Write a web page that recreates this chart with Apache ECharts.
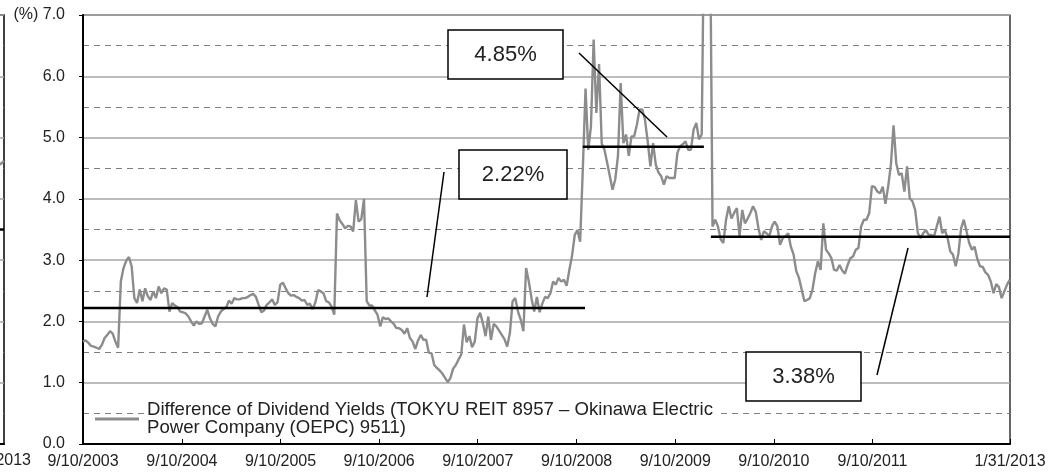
<!DOCTYPE html>
<html><head><meta charset="utf-8">
<script src="https://cdn.jsdelivr.net/npm/echarts@6/dist/echarts.min.js"></script>
<style>html,body{margin:0;padding:0;background:#fff}#c{width:1050px;height:474px}</style>
</head><body><div id="c"></div>
<script>
// ---- data ----
const seriesName = 'Difference of Dividend Yields (TOKYU REIT 8957 \u2013 Okinawa Electric\nPower Company (OEPC) 9511)';
const startDate = [2003, 8, 10];   // 9/10/2003 (y, m-1, d)
const stepDays = 10;               // sampling interval of the values below
const spreadValues = [
1.67,1.69,1.65,1.60,1.59,1.57,1.55,1.62,1.73,1.78,1.84,1.80,1.67,1.57,
2.65,2.87,2.99,3.05,2.90,2.38,2.30,2.52,2.33,2.54,2.41,2.35,2.49,2.38,2.57,2.46,2.54,2.52,
2.16,2.30,2.26,2.23,2.16,2.15,2.13,2.08,2.00,1.93,2.00,1.96,1.97,2.08,2.19,2.05,1.96,1.92,2.08,2.16,2.20,2.23,
2.34,2.29,2.38,2.36,2.36,2.38,2.38,2.40,2.43,2.45,2.40,2.27,2.15,2.18,2.27,2.31,2.36,2.27,2.31,2.60,
2.63,2.54,2.46,2.42,2.43,2.40,2.38,2.34,2.35,2.27,2.29,2.20,2.31,2.51,2.49,2.46,2.33,2.31,2.24,2.11,
3.76,3.65,3.59,3.52,3.56,3.55,3.47,3.98,3.63,3.67,4.00,
2.33,2.26,2.26,2.18,2.11,1.92,2.07,2.04,2.05,2.00,1.96,1.89,1.89,1.86,1.80,1.89,1.73,1.67,1.55,1.69,1.78,1.70,1.70,
1.49,1.48,1.29,1.24,1.20,1.15,1.08,1.01,1.08,1.23,1.29,1.38,1.46,1.95,1.66,1.76,1.58,1.67,2.05,
2.14,1.97,1.76,2.08,1.70,1.96,1.92,1.85,1.78,1.71,1.59,1.81,2.33,2.38,2.16,2.03,1.84,2.87,2.65,2.38,
2.16,2.40,2.15,2.29,2.40,2.38,2.46,2.65,2.60,2.71,2.65,2.68,2.58,2.84,3.07,3.41,3.49,3.30,
4.5,5.8,4.80,5.18,6.6,5.4,6.2,4.9,4.80,4.59,4.37,4.15,4.32,4.70,5.89,4.91,5.05,4.70,5.02,5.02,
5.21,5.46,5.46,5.29,4.94,4.53,4.91,4.56,4.43,4.37,4.23,4.37,4.34,4.34,4.34,4.75,4.86,4.89,4.94,4.80,
4.80,5.13,5.24,4.97,5.05,
9,9,9,
3.55,3.66,3.55,3.34,3.28,3.66,3.88,3.68,3.77,3.85,3.39,3.82,3.60,3.68,3.77,3.88,3.79,3.52,3.33,3.47,
3.44,3.39,3.55,3.63,3.55,3.25,3.36,3.39,3.44,3.22,3.09,2.82,2.71,2.52,2.33,2.35,2.38,2.52,2.79,2.98,
2.84,3.60,3.17,3.11,3.03,2.84,2.83,2.92,2.83,2.78,2.92,3.03,3.06,3.17,3.2,
3.55,3.66,3.66,3.77,4.21,4.19,4.12,4.09,4.20,3.92,4.20,4.55,5.2,4.58,4.39,4.42,4.12,4.53,4.01,3.96,
3.82,3.44,3.36,3.44,3.49,3.41,3.41,3.39,3.55,3.71,3.44,3.49,3.36,3.14,3.09,2.90,3.11,3.52,3.66,3.47,
3.28,3.17,3.22,3.02,2.90,2.89,2.80,2.76,2.65,2.46,2.61,2.56,2.38,2.49,2.60,2.68
];
const meanLevels = [2.22, 4.85, 3.38];
const meanStarts = ['2003-09-10', '2008-10-03', '2010-01-20'];
const meanEnds   = ['2008-10-11', '2009-12-25', '2013-01-31'];
const tickDates = ['2003-09-10','2004-09-10','2005-09-10','2006-09-10','2007-09-10','2008-09-10','2009-09-10','2010-09-10','2011-09-10','2013-01-31'];
const annotationTexts = ['4.85%', '2.22%', '3.38%'];
// tail of the preceding (cropped) chart at the far left
const prevTailX = [0, 88, 92, 96, 100];
const prevTailY = [4.55, 4.50, 4.68, 4.56, 4.62];
const prevMean = 3.5;
const prevLabel = '1/31/2013';

// ---- build ----
const DAY = 86400000;
const t0 = Date.UTC(startDate[0], startDate[1], startDate[2]);
const toT = s => { const p = s.split('-').map(Number); return Date.UTC(p[0], p[1]-1, p[2]); };
const lineData = spreadValues.map((v, i) => [t0 + i*stepDays*DAY, v]);
const tickT = tickDates.map(toT);
const fmt = t => { const d = new Date(t); return (d.getUTCMonth()+1) + '/' + d.getUTCDate() + '/' + d.getUTCFullYear(); };

const FONT = '"Liberation Sans", Arial, sans-serif';
const chart = echarts.init(document.getElementById('c'), null, {renderer: 'canvas'});

const meanSeries = meanLevels.map((lv, k) => ({
  type: 'line', xAxisIndex: 0, yAxisIndex: 0, symbol: 'none', silent: true, z: 4,
  lineStyle: {color: '#000', width: 2.5},
  data: [[toT(meanStarts[k]), lv], [toT(meanEnds[k]), lv]]
}));

const yAxisBase = {
  type: 'value', min: 0, max: 7, interval: 1,
  splitLine: {show: true, lineStyle: {color: '#a6a6a6', width: 1.6}},
  minorTick: {show: false, splitNumber: 2},
  minorSplitLine: {show: true, lineStyle: {color: '#7f7f7f', width: 1, type: [6, 5]}},
};

chart.setOption({
  animation: false,
  textStyle: {fontFamily: FONT},
  grid: [
    {left: 83, right: 40, top: 15, bottom: 30, show: true, borderColor: '#000', borderWidth: 1.2, containLabel: false, outerBoundsMode: 'none'},
    {left: -96, right: 1046, top: 15, bottom: 30, show: true, borderColor: '#000', borderWidth: 1.5, containLabel: false, outerBoundsMode: 'none'}
  ],
  xAxis: [
    {type: 'value', gridIndex: 0, min: tickT[0], max: tickT[tickT.length-1],
     axisLine: {show: true, lineStyle: {color: '#000', width: 2}},
     axisTick: {show: true, inside: true, length: 5, customValues: tickT, lineStyle: {color: '#000', width: 1}},
     axisLabel: {customValues: tickT, formatter: fmt, color: '#222', fontSize: 16, margin: 10, fontFamily: FONT, showMinLabel: true, showMaxLabel: true},
     splitLine: {show: false}},
    {type: 'value', gridIndex: 1, min: 0, max: 100,
     axisLine: {show: true, lineStyle: {color: '#000', width: 2}},
     axisTick: {show: false}, axisLabel: {show: false}, splitLine: {show: false}}
  ],
  yAxis: [
    Object.assign({}, yAxisBase, {gridIndex: 0,
      axisLine: {show: true, lineStyle: {color: '#000', width: 2}},
      axisTick: {show: true, length: 4, lineStyle: {color: '#000'}},
      axisLabel: {color: '#222', fontSize: 16, margin: 18, fontFamily: FONT,
        formatter: v => (v === 7 ? '(%) ' : '') + v.toFixed(1)}}),
    Object.assign({}, yAxisBase, {gridIndex: 1,
      axisLine: {show: false}, axisTick: {show: false}, axisLabel: {show: false}})
  ],
  legend: {
    left: 90, top: 395, orient: 'vertical', icon: 'rect', itemWidth: 44, itemHeight: 3, itemGap: 0,
    selectedMode: false,
    textStyle: {fontSize: 18.6, color: '#222', fontFamily: FONT, lineHeight: 18, backgroundColor: '#fff', padding: [1, 3, 1, 3]},
    data: [{name: seriesName, itemStyle: {color: '#8c8c8c'}}]
  },
  series: [
    {name: seriesName, type: 'line', xAxisIndex: 0, yAxisIndex: 0, symbol: 'none', z: 3,
     lineStyle: {color: '#8c8c8c', width: 2.4}, itemStyle: {color: '#8c8c8c'}, data: lineData, clip: true},
    ...meanSeries,
    {type: 'line', xAxisIndex: 1, yAxisIndex: 1, symbol: 'none', silent: true,
     lineStyle: {color: '#000', width: 2.5}, data: [[0, prevMean], [100, prevMean]]},
    {type: 'line', xAxisIndex: 1, yAxisIndex: 1, symbol: 'none', silent: true,
     lineStyle: {color: '#8c8c8c', width: 2.4}, data: prevTailX.map((x, i) => [x, prevTailY[i]])}
  ]
});

// callout boxes and leader lines (decoration)
const boxes = [
  {x: 448, y: 30, w: 115, h: 49, line: [579, 53, 667, 137]},
  {x: 459, y: 150, w: 108, h: 49, line: [444, 172, 427, 297]},
  {x: 746, y: 352, w: 115, h: 49, line: [908, 248, 877, 375]}
];
const graphic = [];
boxes.forEach((b, k) => {
  graphic.push({type: 'line', shape: {x1: b.line[0], y1: b.line[1], x2: b.line[2], y2: b.line[3]}, style: {stroke: '#000', lineWidth: 1.5}, z: 50});
  graphic.push({type: 'rect', shape: {x: b.x, y: b.y, width: b.w, height: b.h}, style: {fill: '#fff', stroke: '#000', lineWidth: 1.5}, z: 51});
  graphic.push({type: 'text', x: b.x + b.w/2, y: b.y + b.h/2, z: 52,
    style: {text: annotationTexts[k], font: '22px ' + FONT, fill: '#222', align: 'center', verticalAlign: 'middle'}});
});
graphic.push({type: 'text', x: 31, y: 461, z: 52,
  style: {text: prevLabel, font: '16px ' + FONT, fill: '#222', align: 'right', verticalAlign: 'middle'}});
chart.setOption({graphic: graphic});
</script></body></html>
